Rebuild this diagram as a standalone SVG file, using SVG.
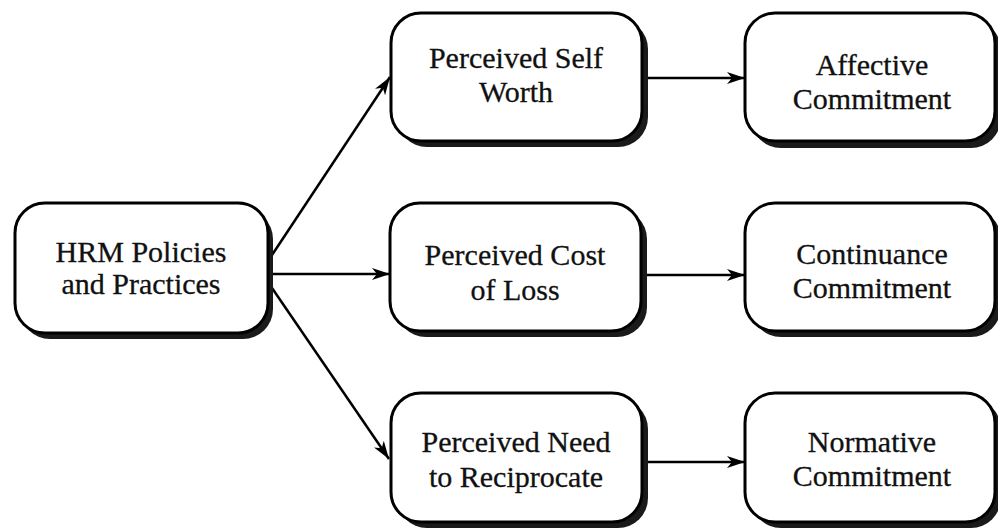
<svg xmlns="http://www.w3.org/2000/svg" width="998" height="532" viewBox="0 0 998 532">
  <style>
    .shadow { fill: #1a1a1a; }
    .box { fill: #ffffff; stroke: #000000; stroke-width: 3; }
    .label { font-family: "Liberation Serif", "Times New Roman", serif; font-size: 30px; fill: #111111; text-anchor: middle; stroke: #111111; stroke-width: 0.3; }
    .link { stroke: #000000; stroke-width: 2.5; fill: none; marker-end: url(#arrow); }
  </style>
  <defs>
    <marker id="arrow" viewBox="0 0 18 12" refX="18" refY="6" markerWidth="18" markerHeight="12" markerUnits="userSpaceOnUse" orient="auto">
      <path d="M0,0 L18,6 L0,12 L5,6 Z" fill="#000000"/>
    </marker>
  </defs>
  <rect width="998" height="532" fill="#ffffff"/>

  <g id="connectors">
    <line class="link" x1="272" y1="255" x2="390" y2="77"/>
    <line class="link" x1="270" y1="274" x2="390" y2="274"/>
    <line class="link" x1="272" y1="288" x2="389" y2="459"/>
    <line class="link" x1="644" y1="78" x2="745" y2="78"/>
    <line class="link" x1="646" y1="275" x2="745" y2="275"/>
    <line class="link" x1="646" y1="462" x2="745" y2="462"/>
  </g>

  <g id="hrm">
    <rect class="shadow" x="20" y="209" width="253" height="130" rx="30"/>
    <rect class="box" x="15" y="203" width="253" height="130" rx="30"/>
    <text class="label" x="141" y="262">HRM Policies</text>
    <text class="label" x="141" y="294">and Practices</text>
  </g>

  <g id="self-worth">
    <rect class="shadow" x="397" y="19" width="251" height="128" rx="30"/>
    <rect class="box" x="391" y="13" width="251" height="128" rx="30"/>
    <text class="label" x="516" y="68">Perceived Self</text>
    <text class="label" x="516" y="102">Worth</text>
  </g>

  <g id="cost-of-loss">
    <rect class="shadow" x="396" y="209" width="251" height="128" rx="30"/>
    <rect class="box" x="390" y="203" width="251" height="128" rx="30"/>
    <text class="label" x="515" y="265">Perceived Cost</text>
    <text class="label" x="515" y="300">of Loss</text>
  </g>

  <g id="need-to-reciprocate">
    <rect class="shadow" x="397" y="399" width="251" height="129" rx="30"/>
    <rect class="box" x="391" y="393" width="251" height="129" rx="30"/>
    <text class="label" x="516" y="452">Perceived Need</text>
    <text class="label" x="516" y="487">to Reciprocate</text>
  </g>

  <g id="affective">
    <rect class="shadow" x="751" y="20" width="250" height="128" rx="30"/>
    <rect class="box" x="745" y="13" width="250" height="128" rx="30"/>
    <text class="label" x="872" y="75">Affective</text>
    <text class="label" x="872" y="109">Commitment</text>
  </g>

  <g id="continuance">
    <rect class="shadow" x="751" y="209" width="250" height="128" rx="30"/>
    <rect class="box" x="745" y="203" width="250" height="128" rx="30"/>
    <text class="label" x="872" y="264">Continuance</text>
    <text class="label" x="872" y="298">Commitment</text>
  </g>

  <g id="normative">
    <rect class="shadow" x="751" y="399" width="250" height="129" rx="30"/>
    <rect class="box" x="745" y="393" width="250" height="129" rx="30"/>
    <text class="label" x="872" y="452">Normative</text>
    <text class="label" x="872" y="486">Commitment</text>
  </g>
</svg>
